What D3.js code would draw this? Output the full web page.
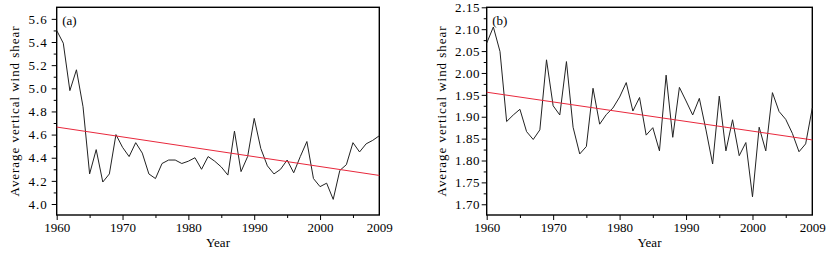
<!DOCTYPE html>
<html><head><meta charset="utf-8">
<script src="https://cdn.jsdelivr.net/npm/d3@7"></script>
<style>body{margin:0;background:#fff}svg{display:block}text{font-family:"Liberation Serif","Times New Roman",serif;fill:#000}</style>
</head><body><svg id="c" width="830" height="256"></svg>
<script>
const years = d3.range(1960, 2010);
const shearA = [5.50,5.39,4.98,5.16,4.84,4.26,4.47,4.19,4.26,4.60,
  4.49,4.41,4.53,4.44,4.26,4.22,4.35,4.38,4.38,4.35,
  4.37,4.40,4.30,4.41,4.37,4.32,4.25,4.63,4.28,4.41,
  4.74,4.48,4.33,4.26,4.30,4.38,4.27,4.41,4.54,4.22,
  4.15,4.18,4.04,4.29,4.34,4.53,4.45,4.52,4.55,4.59];
const shearB = [2.068,2.105,2.049,1.889,1.904,1.917,1.866,1.848,1.870,2.030,
  1.925,1.904,2.026,1.876,1.815,1.832,1.965,1.883,1.905,1.920,
  1.945,1.978,1.913,1.944,1.858,1.875,1.822,1.995,1.853,1.967,
  1.936,1.904,1.942,1.870,1.792,1.947,1.822,1.893,1.811,1.841,
  1.717,1.876,1.822,1.955,1.912,1.894,1.862,1.820,1.838,1.920];
const trendYears = [1960, 2009];
const trendA = [4.665, 4.247];
const trendB = [1.956, 1.847];
const xTickLabels = [1960, 1970, 1980, 1990, 2000, 2009];
const xMinor = [1965, 1975, 1985, 1995, 2005];
const yTicksA = [4.0, 4.2, 4.4, 4.6, 4.8, 5.0, 5.2, 5.4, 5.6];
const yTicksB = [1.70, 1.75, 1.80, 1.85, 1.90, 1.95, 2.00, 2.05, 2.10, 2.15];

const svg = d3.select("#c");

function panel(o) {
  const x = d3.scaleLinear().domain([1960, 2009]).range([o.left, o.right]);
  const y = d3.scaleLinear().domain(o.ydom).range([215, 7.3]);
  const g = svg.append("g");
  // minor y ticks
  const minorY = [];
  for (let i = 0; i < o.yticks.length - 1; i++) minorY.push((o.yticks[i] + o.yticks[i+1]) / 2);
  if (o.yticks[0] - o.ystep/2 > o.ydom[0]) minorY.push(o.yticks[0] - o.ystep/2);
  const ya = d3.axisLeft(y).tickValues(o.yticks).tickSize(5).tickPadding(o.ypad).tickFormat(d3.format(o.fmt));
  const yg = g.append("g").attr("transform", `translate(${o.left},0)`).call(ya);
  yg.select(".domain").remove();
  yg.selectAll("text").style("font-size", "13px").attr("font-family", null).attr("letter-spacing", o.ls);
  yg.selectAll("line").attr("stroke", "#000").attr("stroke-width", 1);
  g.append("g").attr("transform", `translate(${o.left},0)`).call(d3.axisLeft(y).tickValues(minorY).tickSize(3).tickFormat(""))
    .call(s => { s.select(".domain").remove(); s.selectAll("line").attr("stroke", "#000"); });
  // x axis
  const xa = d3.axisBottom(x).tickValues(xTickLabels).tickSize(5).tickPadding(3).tickFormat(d3.format("d"));
  const xg = g.append("g").attr("transform", "translate(0,215)").call(xa);
  xg.select(".domain").remove();
  xg.selectAll("text").style("font-size", "13px").attr("font-family", null);
  xg.selectAll("line").attr("stroke", "#000");
  xg.selectAll(".tick").filter(d => d === 2009).select("line").remove();
  g.append("g").attr("transform", "translate(0,215)").call(d3.axisBottom(x).tickValues(xMinor).tickSize(3).tickFormat(""))
    .call(s => { s.select(".domain").remove(); s.selectAll("line").attr("stroke", "#000"); });
  // frame
  g.append("rect").attr("x", o.left).attr("y", 7.3).attr("width", o.right - o.left).attr("height", 215 - 7.3)
    .attr("fill", "none").attr("stroke", "#000").attr("stroke-width", 1.4);
  // data line
  g.append("path").datum(o.data.map((v, i) => [years[i], v]))
    .attr("d", d3.line().x(d => x(d[0])).y(d => y(d[1])))
    .attr("fill", "none").attr("stroke", "#222").attr("stroke-width", 1);
  // trend
  g.append("path").datum(trendYears.map((t, i) => [t, o.trend[i]]))
    .attr("d", d3.line().x(d => x(d[0])).y(d => y(d[1])))
    .attr("fill", "none").attr("stroke", "#e8283c").attr("stroke-width", 1);
  // labels
  g.append("text").attr("x", o.left + 5.5).attr("y", 25).style("font-size", "13px").text(o.tag);
  g.append("text").attr("x", (o.left + o.right) / 2).attr("y", 247).attr("text-anchor", "middle").style("font-size", "13px").text("Year");
  g.append("text").attr("transform", `translate(${o.labx},111.5) rotate(-90)`).attr("text-anchor", "middle")
    .attr("textLength", 170).attr("lengthAdjust", "spacing").style("font-size", "13px").text("Average vertical wind shear");
}

panel({left: 56.7, right: 379.3, ydom: [3.905, 5.70], yticks: yTicksA, ystep: 0.2, fmt: ".1f", data: shearA, trend: trendA, tag: "(a)", labx: 18.5, ypad: 4, ls: "1px"});
panel({left: 486.7, right: 812.3, ydom: [1.6755, 2.15], yticks: yTicksB, ystep: 0.05, fmt: ".2f", data: shearB, trend: trendB, tag: "(b)", labx: 445.5, ypad: 1.5, ls: "0.6px"});
</script></body></html>
